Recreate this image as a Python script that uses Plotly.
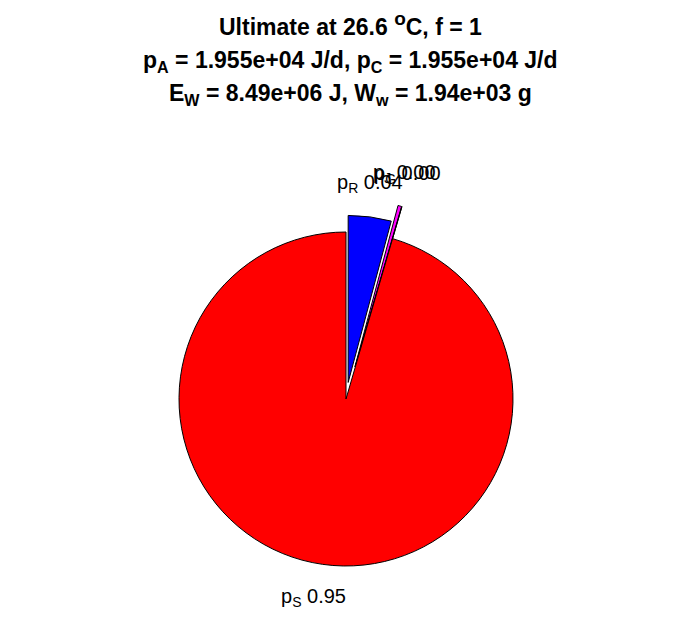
import math
import plotly.graph_objects as go

# Data (clockwise from 12 o'clock)
slice_names = ["p<sub>R</sub>", "p<sub>J</sub>", "p<sub>G</sub>", "p<sub>S</sub>"]
slice_values = [0.0415, 0.0035, 0.0, 0.955]
slice_text = ["0.04", "0.00", "0.00", "0.95"]
slice_colors = ["#0000ff", "#ff00ff", "#00ff00", "#ff0000"]
slice_pull = [0.1, 0.2, 0.2, 0.0]

title_lines = [
    "Ultimate at 26.6 <sup><span style=\"font-size:19px\">o</span></sup>C, f = 1",
    "p<sub>A</sub> = 1.955e+04 J/d, p<sub>C</sub> = 1.955e+04 J/d",
    "E<sub>W</sub> = 8.49e+06 J, W<sub>w</sub> = 1.94e+03 g",
]

W, H = 696, 618
PAGE = 8.0  # default page body margin in the browser
cx, cy, R = 346.0, 399.0, 167.0
maxpull = max(slice_pull)
half = R * (1 + maxpull)
dom_x = [(cx - PAGE - half) / W, (cx - PAGE + half) / W]
dom_y = [1 - (cy - PAGE + half) / H, 1 - (cy - PAGE - half) / H]


def to_paper(xp, yp):
    return (xp - PAGE) / W, 1 - (yp - PAGE) / H


fig = go.Figure(go.Pie(
    labels=slice_names, values=slice_values, sort=False,
    direction="clockwise", rotation=0,
    marker=dict(colors=slice_colors, line=dict(color="black", width=1)),
    pull=slice_pull, textinfo="none", hoverinfo="label+value",
    showlegend=False, domain=dict(x=dom_x, y=dom_y),
))

annotations = []
total = sum(slice_values)
acc = 0.0
for name, v, t, p in zip(slice_names, slice_values, slice_text, slice_pull):
    frac = v / total
    mid = (acc + frac / 2) * 2 * math.pi
    acc += frac
    d = R * (1.2 + p)
    xp = cx + d * math.sin(mid) - 4
    yp = cy - d * math.cos(mid)
    px, py = to_paper(xp, yp)
    annotations.append(dict(
        x=px, y=py, xref="paper", yref="paper",
        text=f"{name} {t}", showarrow=False, xanchor="center", yanchor="middle",
        font=dict(family="Liberation Sans, Arial", size=20, color="black"),
    ))

title_y = [24, 61, 94]
for line, ty in zip(title_lines, title_y):
    px, py = to_paper(W / 2 + 2, ty)
    annotations.append(dict(
        x=px, y=py, xref="paper", yref="paper",
        text=f"<b>{line}</b>", showarrow=False, xanchor="center", yanchor="middle",
        font=dict(family="Liberation Sans, Arial", size=23, color="black"),
    ))

fig.update_layout(
    width=W, height=H, margin=dict(l=0, r=0, t=0, b=0),
    paper_bgcolor="white", plot_bgcolor="white",
    annotations=annotations,
)
fig.write_html("out.html")
